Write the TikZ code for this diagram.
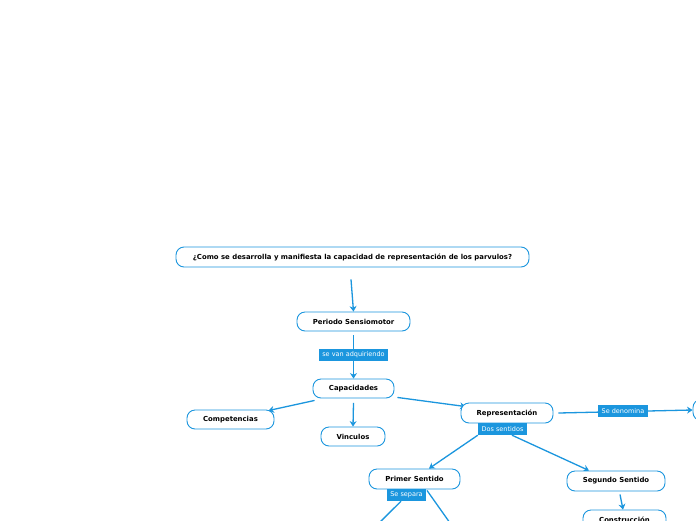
\documentclass[tikz,border=0pt]{standalone}
\usepackage{fontspec}
\setmainfont{DejaVu Sans}
\usetikzlibrary{arrows.meta,backgrounds}
\definecolor{mblue}{RGB}{27,150,222}
\tikzset{
  topic/.style={draw=mblue, line width=0.9pt, fill=white, rounded corners=8pt,
    inner sep=0pt, font=\fontsize{6.9}{8}\selectfont\bfseries, text=black},
  lbl/.style={fill=mblue, inner sep=0pt, font=\fontsize{6.5}{7}\selectfont, text=white},
  conn/.style={draw=mblue, line width=1.3pt, -{Stealth[length=5.5pt,width=7pt]}},
  plain/.style={draw=mblue, line width=1.3pt},
}
\begin{document}
\begin{tikzpicture}[x=1pt,y=-1pt]
\useasboundingbox (0,0) rectangle (696,520);
\clip (0,0) rectangle (696,520);
% topics
\node[topic, minimum width=353pt, minimum height=20pt] (title) at (352.5,257) {¿Como se desarrolla y manifiesta la capacidad de representación de los parvulos?};
\node[topic, minimum width=113pt, minimum height=19pt] (per) at (353.5,321.5) {Periodo Sensiomotor};
\node[topic, minimum width=81pt, minimum height=19pt] (cap) at (353.5,388.5) {Capacidades};
\node[topic, minimum width=87pt, minimum height=19pt] (comp) at (230.5,419.5) {Competencias};
\node[topic, minimum width=64pt, minimum height=19pt] (vin) at (353,436.5) {Vinculos};
\node[topic, minimum width=92pt, minimum height=20pt] (rep) at (507,413) {Representación};
\node[topic, minimum width=91pt, minimum height=20pt] (prim) at (414.5,479) {Primer Sentido};
\node[topic, minimum width=98pt, minimum height=20pt] (seg) at (616,481) {Segundo Sentido};
\node[topic, minimum width=83pt, minimum height=20pt] (cons) at (624.5,520) {Construcción};
\node[topic, minimum width=94pt, minimum height=21pt] (right) at (740,410) {};
\coordinate (p1) at (372,530);
\coordinate (p2) at (455,530);
% labels
\node[lbl, minimum width=69pt, minimum height=12pt] (l1) at (353.5,355) {se van adquiriendo};
\node[lbl, minimum width=49pt, minimum height=12pt] (l2) at (502.5,429) {Dos sentidos};
\node[lbl, minimum width=50pt, minimum height=12pt] (l3) at (623,411) {Se denomina};
\node[lbl, minimum width=39pt, minimum height=12pt] (l4) at (406.5,495) {Se separa};
% connectors
\begin{scope}[on background layer]
\fill[white] (0,0) rectangle (696,520);
\draw[conn] ([shift={(-1.5pt,-12pt)}]title.south) -- (per.north);
\draw[conn] ([yshift=-4pt]per.south) -- (cap.north);
\draw[conn] ([shift={(2pt,-2pt)}]cap.south west) -- ([shift={(-6pt,-1pt)}]comp.north east);
\draw[conn] ([yshift=-4.5pt]cap.south) -- (vin.north);
\draw[conn] ([shift={(3pt,1pt)}]cap.south east) -- ([shift={(5pt,-4pt)}]rep.north west);
\draw[conn] ([xshift=5pt]rep.east) -- (right.west);
\draw[conn] (l2.south west) -- ([xshift=14.5pt]prim.north);
\draw[conn] ([xshift=9.5pt]l2.south) -- ([xshift=-27pt]seg.north);
\draw[conn] ([shift={(4pt,-3pt)}]seg.south) -- ([xshift=-1.5pt]cons.north);
\draw[plain] ([xshift=-5.5pt]l4.south) -- (p1);
\draw[plain] ([shift={(12.5pt,-1pt)}]prim.south) -- (p2);
\end{scope}
\end{tikzpicture}
\end{document}
